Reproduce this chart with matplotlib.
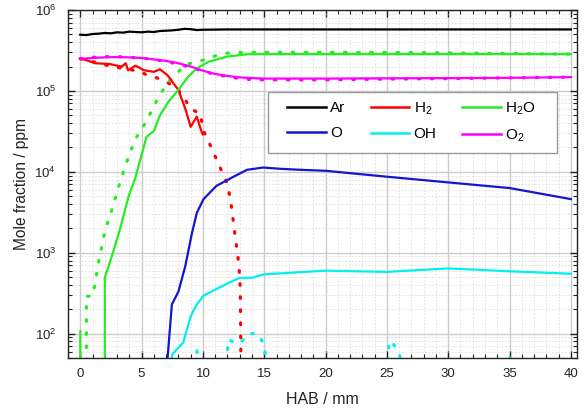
import matplotlib
matplotlib.use("Agg")
import matplotlib.pyplot as plt
from matplotlib.patches import Rectangle
from matplotlib.ticker import MultipleLocator, LogLocator, NullFormatter

plt.rcParams['font.family'] = ['Liberation Sans', 'DejaVu Sans']
plt.rcParams['mathtext.fontset'] = 'custom'
plt.rcParams['mathtext.rm'] = 'Liberation Sans'
plt.rcParams['mathtext.it'] = 'Liberation Sans:italic'
plt.rcParams['mathtext.bf'] = 'Liberation Sans:bold'

# ---------------- data (ppm vs HAB in mm) ----------------
ar_x = [0, 0.5, 1, 1.5, 2, 2.5, 3, 3.5, 4, 4.5, 5, 5.5, 6, 6.5, 7, 7.5, 8, 8.5, 9, 9.5, 10, 12, 15, 20, 25, 30, 35, 40]
ar_y = [4.95e5, 4.9e5, 5.05e5, 5.1e5, 5.2e5, 5.15e5, 5.3e5, 5.25e5, 5.4e5, 5.35e5, 5.3e5, 5.4e5, 5.35e5, 5.5e5,
        5.55e5, 5.6e5, 5.7e5, 5.85e5, 5.8e5, 5.65e5, 5.7e5, 5.75e5, 5.75e5, 5.75e5, 5.75e5, 5.75e5, 5.75e5, 5.75e5]

h2_x = [0, 0.5, 1.2, 2.4, 3.0, 3.4, 3.7, 3.9, 4.5, 5.2, 6.0, 6.5, 7.1, 7.6, 8.0, 8.6, 9.0, 9.5, 9.9, 10.0]
h2_y = [2.5e5, 2.4e5, 2.2e5, 2.15e5, 2.05e5, 2.0e5, 2.2e5, 1.8e5, 2.05e5, 1.8e5, 1.72e5, 1.85e5, 1.57e5,
        1.24e5, 1.03e5, 5.8e4, 3.6e4, 4.8e4, 3.1e4, 2.9e4]
h2_sim_x = [0, 1, 2, 3, 4, 5, 5.4, 6, 7, 7.9, 8.5, 9.0, 9.5, 9.8, 10.0, 10.3, 11, 11.5, 12.0, 12.2, 12.36,
            12.5, 12.63, 12.77, 12.9, 12.99, 13.04, 13.07, 13.1]
h2_sim_y = [2.5e5, 2.3e5, 2.1e5, 1.95e5, 1.85e5, 1.7e5, 1.58e5, 1.5e5, 1.3e5, 1.08e5, 8e4, 6e4, 5.5e4, 5.3e4,
            3.3e4, 2.7e4, 1.55e4, 1.05e4, 7.1e3, 4.9e3, 3.4e3, 2.3e3, 1.6e3, 1.1e3, 7.8e2, 5.3e2, 3.7e2, 1.5e2, 40]

h2o_x = [0, 0.5, 1.5, 2.0, 2.7, 3.26, 3.94, 4.48, 5.4, 6.0, 6.5, 7.2, 8.0, 8.7, 9.5, 10.5, 12, 13.6, 15, 20, 25, 30, 35, 40]
h2o_y = [107, 0, 0, 490, 1040, 2000, 5000, 8300, 2.7e4, 3.2e4, 5e4, 7.4e4, 1.03e5, 1.44e5, 1.9e5, 2.3e5,
         2.66e5, 2.84e5, 2.85e5, 2.85e5, 2.85e5, 2.85e5, 2.85e5, 2.85e5]
h2o_sim_x = [0.45, 0.5, 0.95, 1.17, 1.36, 1.52, 1.74, 1.96, 2.25, 2.6, 3.26, 3.75, 4.2, 4.6, 5.3, 6.0, 6.4, 7.1,
             7.9, 8.55, 9.5, 10.3, 11.5, 12.5, 13.6, 15, 20, 25, 30, 35, 40]
h2o_sim_y = [0, 290, 290, 390, 575, 820, 1170, 1700, 2400, 3500, 7600, 1.28e4, 1.96e4, 2.7e4, 4e4, 6.4e4, 8.5e4,
             1.25e5, 1.66e5, 2.1e5, 2.3e5, 2.46e5, 2.9e5, 2.95e5, 3.0e5, 3.0e5, 3.0e5, 3.0e5, 2.95e5, 2.9e5, 2.85e5]

o_x = [7.0, 7.47, 8.0, 8.56, 9.1, 9.5, 10.05, 11.1, 12.5, 13.6, 14.9, 16.3, 17.9, 20, 25, 30, 35, 40]
o_y = [30, 230, 330, 680, 1730, 3100, 4600, 6700, 8700, 1.06e4, 1.13e4, 1.09e4, 1.06e4, 1.03e4, 8.7e3,
       7.4e3, 6.3e3, 4.6e3]
o_sim_x = [2.8, 3.0, 3.2]
o_sim_y = [30, 51, 30]

oh_x = [7.35, 7.5, 7.7, 8.4, 9.0, 9.4, 10.05, 11, 12.1, 13.0, 14.0, 14.95, 17.9, 20, 25, 30, 35, 40]
oh_y = [40, 55, 60, 78, 163, 218, 295, 350, 424, 490, 490, 540, 575, 600, 580, 640, 590, 550]
oh_sim_x = [9.3, 9.5, 9.7, 11.9, 12.05, 12.4, 13.0, 13.7, 14.5, 15.0, 15.3, 24.9, 25.2, 25.5, 26.0, 26.3,
            34.3, 34.5, 35.0, 35.3]
oh_sim_y = [30, 62, 30, 30, 85, 80, 75, 100, 100, 72, 30, 30, 82, 75, 60, 30, 30, 51, 51, 30]

o2_x = [0, 1, 2, 3, 4, 5, 6, 7, 8, 9, 10, 11, 12, 13, 14, 15, 20, 25, 30, 35, 40]
o2_y = [2.5e5, 2.55e5, 2.6e5, 2.62e5, 2.6e5, 2.55e5, 2.45e5, 2.35e5, 2.2e5, 2.0e5, 1.78e5, 1.62e5, 1.53e5,
        1.47e5, 1.44e5, 1.42e5, 1.42e5, 1.43e5, 1.44e5, 1.45e5, 1.48e5]
o2_sim_y = [2.5e5, 2.6e5, 2.65e5, 2.65e5, 2.6e5, 2.55e5, 2.45e5, 2.3e5, 2.15e5, 1.95e5, 1.75e5, 1.6e5, 1.5e5,
            1.42e5, 1.38e5, 1.37e5, 1.37e5, 1.4e5, 1.42e5, 1.45e5, 1.48e5]

labels = ['Ar', 'H$_2$', 'H$_2$O', 'O', 'OH', 'O$_2$']
colors = ['#000000', '#ff0000', '#22ee22', '#1414d2', '#00f0f0', '#ff00ff']

# ---------------- figure ----------------
fig = plt.figure(figsize=(5.85, 4.12), dpi=100)
ax = fig.add_axes([68 / 585, 1 - 358 / 412, 509 / 585, 348 / 412])
ax.set_yscale('log')

dot = dict(linestyle=(0, (0.5, 3.6)), linewidth=2.3, dash_capstyle='round')
lw = 1.6

ax.plot(h2_sim_x, h2_sim_y, color=colors[1], **dot)
ax.plot(h2o_sim_x, h2o_sim_y, color=colors[2], **dot)
ax.plot(o_sim_x, o_sim_y, color=colors[3], **dot)
ax.plot(oh_sim_x, oh_sim_y, color=colors[4], **dot)
ax.plot(o2_x, o2_sim_y, color=colors[5], **dot)

handles = []
for xs, ys, c, lab in [(ar_x, ar_y, colors[0], labels[0]), (h2_x, h2_y, colors[1], labels[1]),
                       (h2o_x, h2o_y, colors[2], labels[2]), (o_x, o_y, colors[3], labels[3]),
                       (oh_x, oh_y, colors[4], labels[4]), (o2_x, o2_y, colors[5], labels[5])]:
    h, = ax.plot(xs, ys, color=c, lw=lw, label=lab)
    handles.append(h)

ax.set_xlim(-1, 40.5)
ax.set_ylim(50, 1e6)

ax.xaxis.set_major_locator(MultipleLocator(5))
ax.xaxis.set_minor_locator(MultipleLocator(1))
ax.yaxis.set_major_locator(LogLocator(base=10, numticks=10))
ax.yaxis.set_minor_locator(LogLocator(base=10, subs=range(2, 10), numticks=20))
ax.yaxis.set_minor_formatter(NullFormatter())

ax.tick_params(which='both', direction='in', top=True, right=True, labelsize=9.5, colors='#222222')
ax.tick_params(which='major', length=5, width=1)
ax.tick_params(which='minor', length=3, width=0.8)
ax.tick_params(axis='x', which='major', pad=7)
ax.tick_params(axis='y', which='major', pad=8.5)

ax.grid(True, which='major', color='#cccccc', linewidth=1.0, linestyle='-')
ax.grid(True, which='minor', color='#dddddd', linewidth=0.6, linestyle=(0, (2, 2)))
ax.set_axisbelow(True)
for s in ax.spines.values():
    s.set_linewidth(1.0)
    s.set_color('#222222')

ax.set_xlabel('HAB / mm', fontsize=11.5, color='#222222', labelpad=8.5)
ax.set_ylabel('Mole fraction / ppm', fontsize=11.2, color='#222222', labelpad=4)

# legend box
box = Rectangle((0.3935, 0.590), 0.9613 - 0.3935, 0.7635 - 0.590, transform=ax.transAxes,
                facecolor='white', edgecolor='#999999', linewidth=1.0, zorder=4.5)
ax.add_patch(box)

order = [0, 3, 1, 4, 2, 5]
leg = ax.legend([handles[i] for i in order], [labels[i] for i in order], ncol=3, loc='center left',
                bbox_to_anchor=(0.431, 0.678), borderaxespad=0, borderpad=0, frameon=False,
                fontsize=11, handlelength=2.5, columnspacing=1.7,
                handletextpad=0.28, labelspacing=0.7)
for lh in leg.get_lines():
    lh.set_linewidth(1.8)

fig.savefig('out.png', dpi=100)
